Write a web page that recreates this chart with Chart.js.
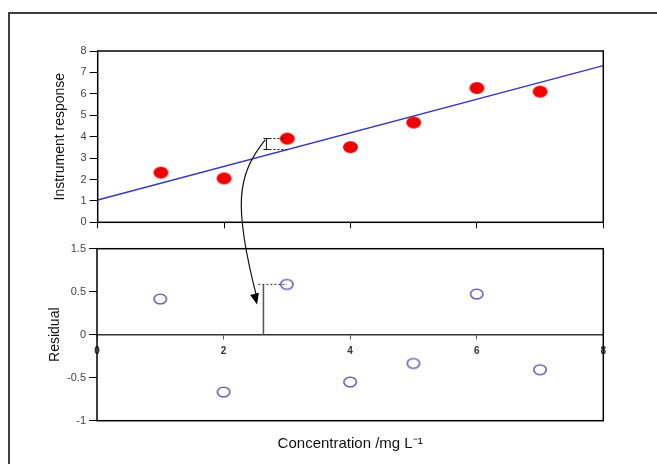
<!DOCTYPE html>
<html><head><meta charset="utf-8">
<script src="https://cdn.jsdelivr.net/npm/chart.js@4.4.1/dist/chart.umd.min.js"></script>
<style>
html,body{margin:0;padding:0;background:#fff;width:657px;height:464px;overflow:hidden;}
#frame{position:absolute;left:8px;top:12px;width:720px;height:520px;border-left:2px solid #404040;border-top:2px solid #404040;}
canvas{position:absolute;left:0;top:0;}
</style></head><body>
<div id="frame"></div>
<canvas id="bot" width="657" height="464"></canvas>
<canvas id="top" width="657" height="464"></canvas>
<script>
// ---- data ----
const concentration = [1, 2, 3, 4, 5, 6, 7];
const response = [2.32, 2.05, 3.91, 3.51, 4.66, 6.27, 6.10];
const fitX = [0, 8];
const fitY = [1.04, 7.32];
const residual = [0.415, -0.667, 0.585, -0.55, -0.334, 0.473, -0.407];
const residualTickLabels = ['-1', '-0.5', '0', '0.5', '1.5'];
const concentrationTickLabels = ['0', '2', '4', '6', '8'];
// annotation anchors (data units)
const annoBarX = 2.67, annoPointX = 3, annoPointY = 3.91, annoFitY = 3.40;
const annoResX = 2.63, annoResDashFrom = 2.55, annoResY = 0.585;
const arrowStart = [2.65, 3.85], arrowCtrlTop = [2.2, 2.2], arrowCtrlBottom = [2.15, 1.5], arrowEnd = [2.53, 0.35];

const FONT = "'Liberation Sans', Arial, Helvetica, sans-serif";

function ellipseImg(rx, ry, fill, stroke, lw) {
  const c = document.createElement('canvas');
  const w = Math.ceil(2 * rx + lw + 2), h = Math.ceil(2 * ry + lw + 2);
  c.width = w; c.height = h;
  const g = c.getContext('2d');
  g.beginPath(); g.ellipse(w / 2, h / 2, rx, ry, 0, 0, Math.PI * 2);
  if (fill) { g.fillStyle = fill; g.fill(); }
  if (stroke) { g.lineWidth = lw; g.strokeStyle = stroke; g.stroke(); }
  return c;
}
const redDot = ellipseImg(7.5, 5.9, 'rgb(240,0,0)', null, 0);
const blueRing = ellipseImg(6.2, 4.9, null, 'rgb(72,72,168)', 1.4);

const botPlugin = {
  id: 'botAnno',
  afterDraw(chart) {
    const { ctx, chartArea: a, scales: { x, y } } = chart;
    ctx.save();
    ctx.strokeStyle = '#000'; ctx.lineWidth = 1.5;
    ctx.strokeRect(a.left, a.top, a.right - a.left, a.bottom - a.top);
    const vx = x.getPixelForValue(annoResX), y0 = y.getPixelForValue(0), y1 = y.getPixelForValue(annoResY);
    ctx.strokeStyle = '#555'; ctx.lineWidth = 1.5;
    ctx.beginPath(); ctx.moveTo(vx, y0); ctx.lineTo(vx, y1); ctx.stroke();
    ctx.strokeStyle = '#333'; ctx.lineWidth = 1; ctx.setLineDash([2, 2]);
    ctx.beginPath(); ctx.moveTo(x.getPixelForValue(annoResDashFrom), y1); ctx.lineTo(x.getPixelForValue(annoPointX), y1); ctx.stroke();
    ctx.restore();
  }
};

const bottomChart = new Chart(document.getElementById('bot'), {
  type: 'scatter',
  data: { datasets: [{
    data: concentration.map((c, i) => ({ x: c, y: residual[i] })),
    pointStyle: blueRing, pointRadius: 6, pointHoverRadius: 6
  }] },
  options: {
    responsive: false, animation: false, events: [],
    layout: { padding: { left: 0, top: 248.7, right: 53.7, bottom: 7.3 } },
    plugins: { legend: { display: false }, tooltip: { enabled: false } },
    scales: {
      x: {
        type: 'linear', position: { y: 0 }, min: 0, max: 8,
        ticks: { stepSize: 2, padding: 7, color: '#333', font: { family: FONT, size: 10, weight: 'bold' },
                 callback: (v, i) => concentrationTickLabels[i] },
        grid: { drawOnChartArea: false, tickLength: 4, color: '#555' },
        border: { display: true, color: '#333', width: 1.5 }
      },
      xt: {
        type: 'linear', position: 'bottom', min: 0, max: 8,
        ticks: { display: false }, grid: { display: false }, border: { display: false },
        title: { display: true, text: 'Concentration /mg L\u207B\u00B9', color: '#111',
                 font: { family: FONT, size: 15 }, padding: { top: 0, bottom: 3.4 } },
        afterFit(s) { s.height = 36; }
      },
      y: {
        min: -1, max: 1,
        ticks: { stepSize: 0.5, padding: 3, color: '#444', font: { family: FONT, size: 11 },
                 callback: (v, i) => residualTickLabels[i] },
        grid: { drawOnChartArea: false, tickLength: 8, color: '#000' },
        border: { display: false },
        title: { display: true, text: 'Residual', color: '#111', font: { family: FONT, size: 14 },
                 padding: { top: 46.6, bottom: 0 } },
        afterFit(s) { s.width = 97; }
      }
    }
  },
  plugins: [botPlugin]
});

const topPlugin = {
  id: 'topAnno',
  afterDraw(chart) {
    const { ctx, chartArea: a, scales: { x, y } } = chart;
    ctx.save();
    ctx.strokeStyle = '#000'; ctx.lineWidth = 1.5;
    ctx.strokeRect(a.left, a.top, a.right - a.left, a.bottom - a.top);
    // I-bar
    const bx = x.getPixelForValue(annoBarX), py = y.getPixelForValue(annoPointY), fy = y.getPixelForValue(annoFitY);
    ctx.lineWidth = 1; ctx.strokeStyle = '#111';
    ctx.beginPath();
    ctx.moveTo(bx, py); ctx.lineTo(bx, fy);
    ctx.moveTo(bx - 3, py); ctx.lineTo(bx + 3, py);
    ctx.moveTo(bx - 3, fy); ctx.lineTo(bx + 3, fy);
    ctx.stroke();
    ctx.setLineDash([2, 2]);
    ctx.beginPath();
    ctx.moveTo(bx + 3, py); ctx.lineTo(x.getPixelForValue(annoPointX) - 4, py);
    ctx.moveTo(bx + 3, fy); ctx.lineTo(x.getPixelForValue(annoPointX), fy);
    ctx.stroke();
    ctx.setLineDash([]);
    // curved arrow to residual plot
    const bs = bottomChart.scales;
    const p0 = [x.getPixelForValue(arrowStart[0]), y.getPixelForValue(arrowStart[1])];
    const p1 = [x.getPixelForValue(arrowCtrlTop[0]), y.getPixelForValue(arrowCtrlTop[1])];
    const p2 = [bs.x.getPixelForValue(arrowCtrlBottom[0]), bs.y.getPixelForValue(arrowCtrlBottom[1])];
    const p3 = [bs.x.getPixelForValue(arrowEnd[0]), bs.y.getPixelForValue(arrowEnd[1])];
    ctx.strokeStyle = '#111'; ctx.lineWidth = 1.2;
    ctx.beginPath(); ctx.moveTo(p0[0], p0[1]);
    ctx.bezierCurveTo(p1[0], p1[1], p2[0], p2[1], p3[0], p3[1] - 6);
    ctx.stroke();
    const ang = Math.atan2(p3[1] - p2[1], p3[0] - p2[0]);
    ctx.fillStyle = '#000';
    ctx.beginPath();
    ctx.moveTo(p3[0], p3[1]);
    ctx.lineTo(p3[0] - 11 * Math.cos(ang) + 4.5 * Math.sin(ang), p3[1] - 11 * Math.sin(ang) - 4.5 * Math.cos(ang));
    ctx.lineTo(p3[0] - 11 * Math.cos(ang) - 4.5 * Math.sin(ang), p3[1] - 11 * Math.sin(ang) + 4.5 * Math.cos(ang));
    ctx.closePath(); ctx.fill();
    ctx.restore();
  }
};

const topChart = new Chart(document.getElementById('top'), {
  type: 'scatter',
  data: { datasets: [
    { data: concentration.map((c, i) => ({ x: c, y: response[i] })),
      pointStyle: redDot, pointRadius: 7, pointHoverRadius: 7 },
    { data: fitX.map((v, i) => ({ x: v, y: fitY[i] })), showLine: true,
      borderColor: 'rgb(55,55,185)', borderWidth: 1.4, pointRadius: 0, fill: false }
  ] },
  options: {
    responsive: false, animation: false, events: [],
    layout: { padding: { left: 0, top: 51, right: 53.7, bottom: 231.7 } },
    plugins: { legend: { display: false }, tooltip: { enabled: false } },
    scales: {
      x: {
        type: 'linear', position: 'bottom', min: 0, max: 8,
        ticks: { stepSize: 2, display: false },
        grid: { drawOnChartArea: false, drawTicks: true, tickLength: 6, color: '#000' },
        border: { display: false },
        afterFit(s) { s.height = 10; }
      },
      y: {
        min: 0, max: 8,
        ticks: { stepSize: 1, padding: 3, color: '#444', font: { family: FONT, size: 11 } },
        grid: { drawOnChartArea: false, tickLength: 8, color: '#000' },
        border: { display: false },
        title: { display: true, text: 'Instrument response', color: '#111', font: { family: FONT, size: 14 },
                 padding: { top: 51.6, bottom: 0 } },
        afterFit(s) { s.width = 97.7; }
      }
    }
  },
  plugins: [topPlugin]
});
</script>
</body></html>
